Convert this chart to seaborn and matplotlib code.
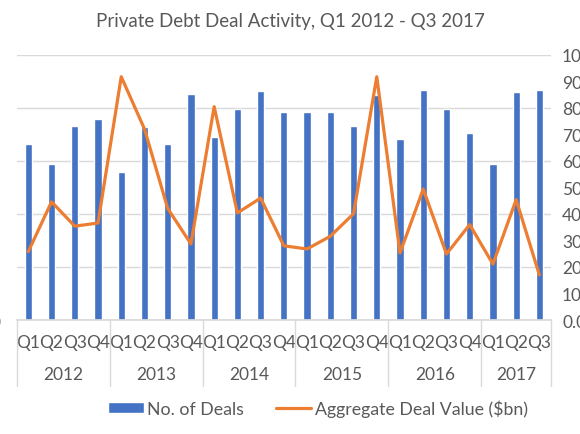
import numpy as np
import pandas as pd
import seaborn as sns
import matplotlib.pyplot as plt
from matplotlib.transforms import blended_transform_factory

years = ["2012", "2013", "2014", "2015", "2016", "2017"]
quarters = ["Q1", "Q2", "Q3", "Q4"]
deal_count = [166, 147, 183, 190, 140, 182, 166, 213, 173, 199, 216, 196,
              196, 196, 183, 212, 171, 217, 199, 176, 147, 215, 217]
deal_value = [25.8, 44.6, 35.4, 36.6, 91.8, 72.1, 42.1, 28.7, 80.5, 40.4, 46.0, 28.0,
              26.8, 31.6, 40.1, 91.8, 25.3, 49.4, 24.9, 36.0, 21.1, 45.4, 17.0]

periods = [(y, q) for y in years for q in quarters][:len(deal_count)]
df = pd.DataFrame({
    "year": [p[0] for p in periods],
    "quarter": [p[1] for p in periods],
    "deals": deal_count,
    "value": deal_value,
})
df["period"] = df["year"] + " " + df["quarter"]
df["idx"] = np.arange(len(df))

sns.set_theme(style="white")
plt.rcParams["font.family"] = ["Lato", "DejaVu Sans"]
GREY = "#595959"
BLUE = "#4472C4"
ORANGE = "#ED7D31"

fig = plt.figure(figsize=(5.8, 4.35), dpi=100)
ax = fig.add_axes([16.7 / 580, 1 - 321 / 435, (551 - 16.7) / 580, (321 - 56) / 435])

sns.barplot(data=df, x="period", y="deals", color=BLUE, width=0.31, saturation=1,
            ax=ax, label="No. of Deals")
if ax.get_legend() is not None:
    ax.get_legend().remove()
ax.set_xlim(-0.5, len(df) - 0.5)
ax.set_ylim(0, 250)
ax.set_yticks(np.arange(0, 251, 50))
ax.yaxis.grid(True, color="#d9d9d9", linewidth=1)
ax.set_axisbelow(True)
ax.set_xlabel("")
ax.set_ylabel("")
ax.set_xticks(df["idx"])
ax.set_xticklabels(df["quarter"], fontsize=12.5, color=GREY)
ax.tick_params(axis="x", length=0, pad=10)
ax.tick_params(axis="y", length=0, pad=12, labelsize=12.5, labelcolor=GREY)
for s in ["top", "left", "right"]:
    ax.spines[s].set_visible(False)
ax.spines["bottom"].set_color("#d9d9d9")

ax2 = ax.twinx()
sns.lineplot(data=df, x="idx", y="value", color=ORANGE, linewidth=2.3, ax=ax2,
             label="Aggregate Deal Value ($bn)", legend=False)
ax2.set_ylim(0, 100)
ax2.set_yticks(np.arange(0, 101, 10))
ax2.set_yticklabels([f"{v:.1f}" for v in np.arange(0, 101, 10)])
ax2.tick_params(axis="y", length=0, pad=8, labelsize=12.5, labelcolor=GREY)
ax2.set_xlabel("")
ax2.set_ylabel("")
for s in ax2.spines.values():
    s.set_visible(False)

# year group labels and separators
trans = blended_transform_factory(ax.transData, ax.transAxes)
bounds = [-0.5]
for y in years:
    sub = df[df["year"] == y]
    ax.text(sub["idx"].mean(), -0.205, y, transform=trans, ha="center", va="center",
            fontsize=12.5, color=GREY)
    bounds.append(sub["idx"].max() + 0.5)
for b in bounds:
    ax.plot([b, b], [0, -0.25], transform=trans, color="#d9d9d9", linewidth=1,
            clip_on=False)

fig.text(0.5, 1 - 22 / 435, "Private Debt Deal Activity, Q1 2012 - Q3 2017",
         ha="center", va="center", fontsize=13.5, color=GREY)

h1, l1 = ax.get_legend_handles_labels()
h2, l2 = ax2.get_legend_handles_labels()
fig.legend(h1 + h2, l1 + l2, loc="center", bbox_to_anchor=(318 / 580, 1 - 409 / 435),
           ncol=2, frameon=False, fontsize=12.8, labelcolor=GREY, handlelength=2.0,
           handleheight=0.6, columnspacing=1.8, handletextpad=0.2)

fig.savefig("out.png", dpi=100)
